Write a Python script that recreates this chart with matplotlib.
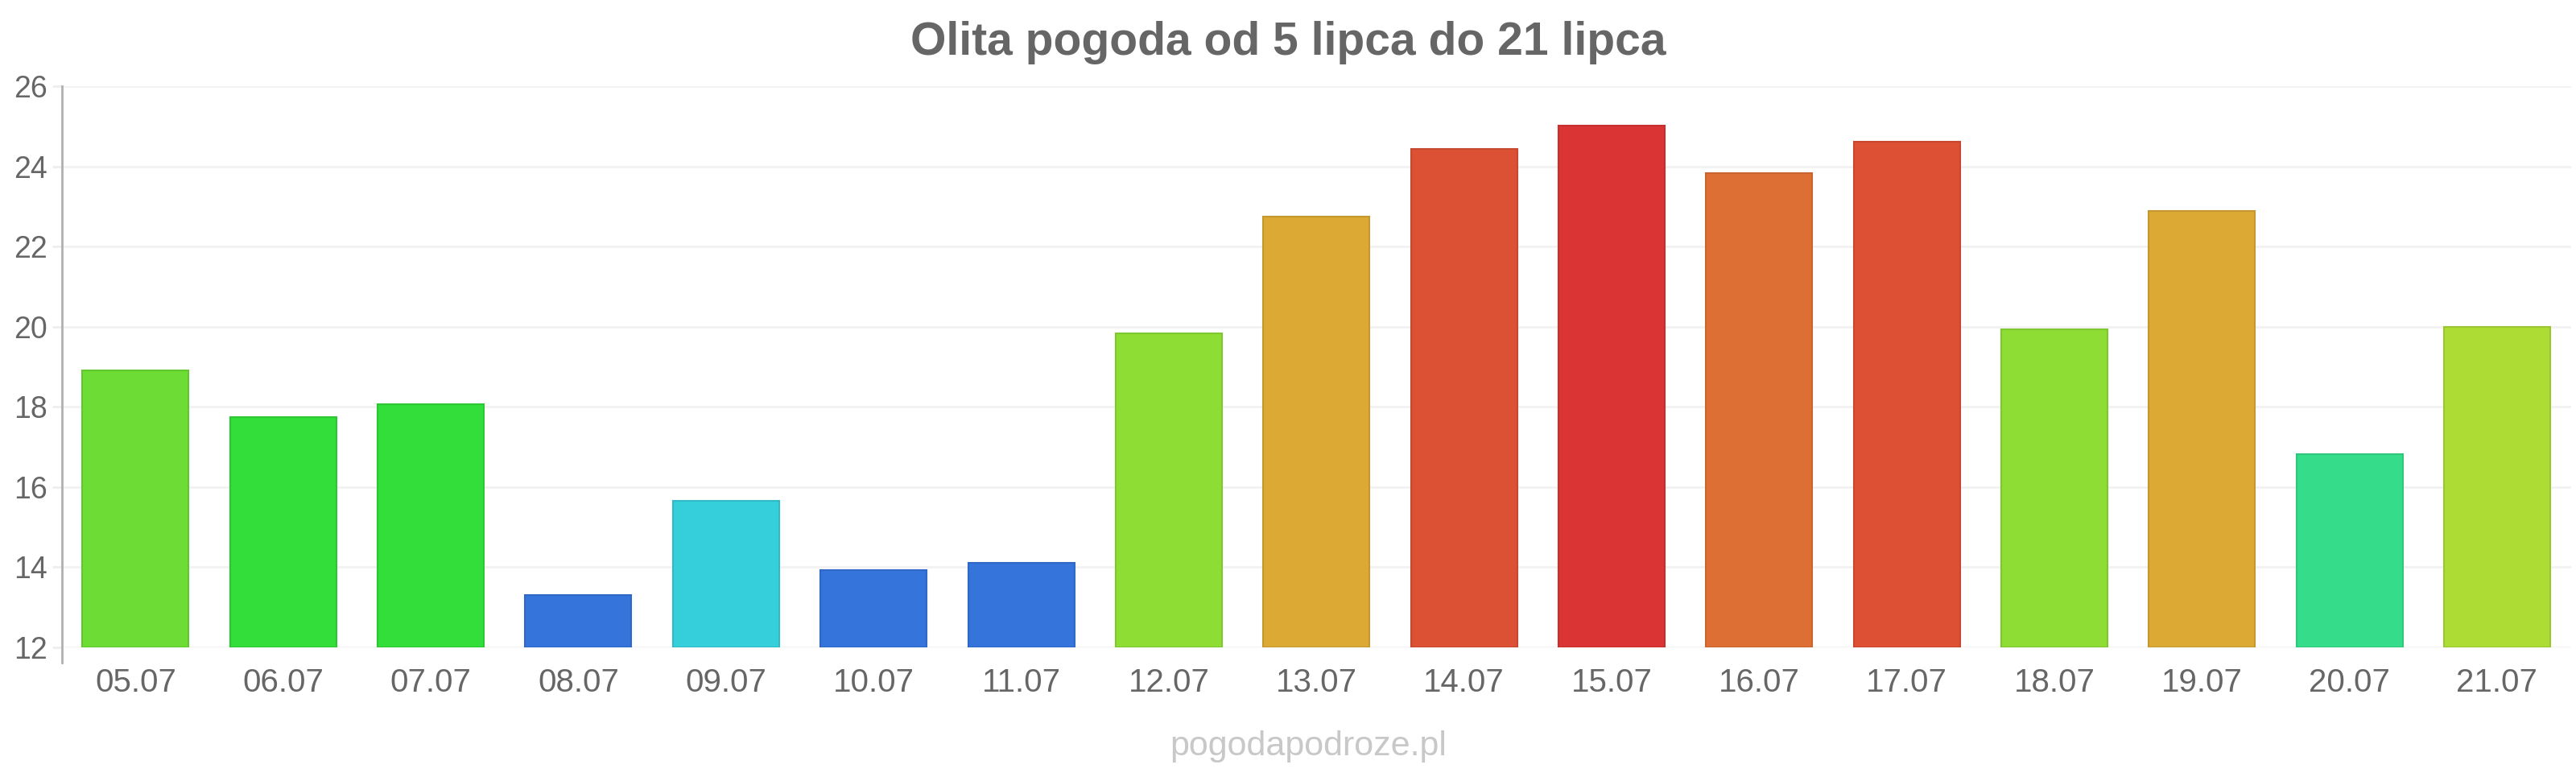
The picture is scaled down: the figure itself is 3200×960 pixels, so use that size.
import matplotlib
matplotlib.use("Agg")
import matplotlib.pyplot as plt

# data
days = ["05.07", "06.07", "07.07", "08.07", "09.07", "10.07", "11.07", "12.07", "13.07",
        "14.07", "15.07", "16.07", "17.07", "18.07", "19.07", "20.07", "21.07"]
temps = [18.92, 17.74, 18.06, 13.3, 15.66, 13.93, 14.1, 19.83, 22.75,
         24.43, 25.01, 23.83, 24.61, 19.94, 22.89, 16.82, 20.0]
colors = ["#6ddd35", "#33dd3a", "#33dd3a", "#3474db", "#35cfdc", "#3474db", "#3474db",
          "#8ddd35", "#dba934", "#dc5034", "#db3434", "#dd6f34", "#dd5034", "#8ddd35",
          "#dba934", "#35dc8a", "#addc34"]
edges = ["#62c72f", "#2ec734", "#2ec734", "#2f68c5", "#30bac6", "#2f68c5", "#2f68c5",
         "#7ec72f", "#c5982f", "#c6482f", "#c52f2f", "#c7642f", "#c7482f", "#7ec72f",
         "#c5982f", "#30c67c", "#9cc62f"]
yticks = [12, 14, 16, 18, 20, 22, 24, 26]

plt.rcParams["font.family"] = ["Liberation Sans", "DejaVu Sans"]

fig = plt.figure(figsize=(32, 9.6), dpi=100)
ax = fig.add_axes([0.024, 0.1625, 0.974, 0.726])

x = list(range(len(days)))
ax.bar(x, [t - 12 for t in temps], bottom=12, width=0.72, color=colors,
       edgecolor=edges, linewidth=1.5, zorder=3)

ax.set_xlim(-0.5, len(days) - 0.5)
ax.set_ylim(12, 26)
ax.set_yticks(yticks)
ax.set_xticks(x)
ax.set_xticklabels(days)
ax.grid(axis="y", color="#f2f2f2", linewidth=2, zorder=0)

for side in ("top", "right", "bottom"):
    ax.spines[side].set_visible(False)
ax.spines["left"].set_color("#b0b0b0")
ax.spines["left"].set_linewidth(2)
ax.spines["left"].set_bounds(11.62, 26)

ax.tick_params(axis="y", length=9, width=2, color="#eeeeee", labelsize=27,
               labelcolor="#666666", pad=4)
ax.tick_params(axis="x", length=0, labelsize=29, labelcolor="#666666", pad=18)

fig.text(0.5, 0.945, "Olita pogoda od 5 lipca do 21 lipca", ha="center", va="center",
         fontsize=41, fontweight="bold", color="#666666")
fig.text(0.508, 0.034, "pogodapodroze.pl", ha="center", va="center",
         fontsize=31, color="#c8c8c8")

fig.savefig("out.png", dpi=100, facecolor="white")
